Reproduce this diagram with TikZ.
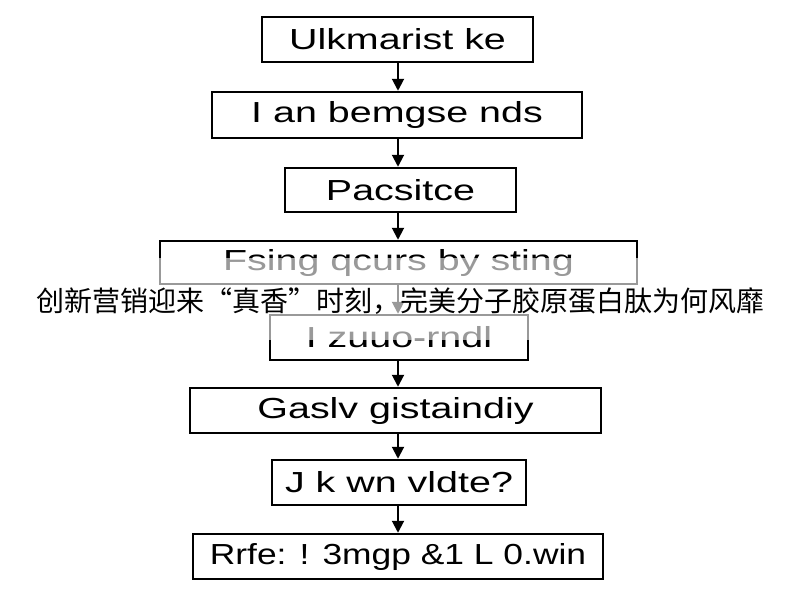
\documentclass[tikz,border=0pt]{standalone}
\usepackage{fontspec}
\usepackage{graphicx}
\setmainfont{Liberation Sans}
\newfontfamily\cjk{Noto Sans CJK SC}
\usetikzlibrary{arrows.meta}
\newcommand{\widetext}[2][1.36]{\scalebox{#1}[1.0]{#2}}
\begin{document}
\begin{tikzpicture}[x=1pt,y=-1pt,
  flowbox/.style={draw=black, line width=2.5pt, fill=white, inner sep=0pt, font=\fontsize{29}{32}\selectfont},
  flowarrow/.style={draw=black, line width=2pt, -{Triangle[length=12pt,width=12pt]}}]
\useasboundingbox (0,0) rectangle (800,600);
\fill[white] (0,0) rectangle (800,600);
\node[flowbox, minimum width=271pt, minimum height=45pt] (b1) at (397.5,39.5) {\widetext{Ulkmarist ke}};
\node[flowbox, minimum width=370pt, minimum height=46pt] (b2) at (397,115) {\widetext{I an bemgse nds}};
\node[flowbox, minimum width=231pt, minimum height=44pt] (b3) at (400.5,190) {\widetext{Pacsitce}};
\node[flowbox, minimum width=477pt, minimum height=43pt] (b4) at (398.5,262.5) {\widetext{Fsing qcurs by sting}};
\node[flowbox, minimum width=258pt, minimum height=45pt] (b5) at (399,337.5) {\widetext{I zuuo-rndl}};
\node[flowbox, minimum width=411pt, minimum height=45pt] (b6) at (395.5,410.5) {\widetext{Gaslv gistaindiy}};
\node[flowbox, minimum width=254pt, minimum height=45pt] (b7) at (399,482.5) {\widetext{J k wn vldte?}};
\node[flowbox, minimum width=410pt, minimum height=45pt] (b8) at (398,556.5) {\widetext[1.22]{Rrfe: ! 3mgp \&1 L 0.win}};
\draw[flowarrow] (b1.south -| 398,0) -- (b2.north -| 398,0);
\draw[flowarrow] (b2.south -| 398,0) -- (b3.north -| 398,0);
\draw[flowarrow] (b3.south -| 398,0) -- (b4.north -| 398,0);
\draw[flowarrow] (b4.south -| 398,0) -- (b5.north -| 398,0);
\draw[flowarrow] (b5.south -| 398,0) -- (b6.north -| 398,0);
\draw[flowarrow] (b6.south -| 398,0) -- (b7.north -| 398,0);
\draw[flowarrow] (b7.south -| 398,0) -- (b8.north -| 398,0);
\fill[white, opacity=0.6] (0,258) rectangle (800,340);
\node[font=\cjk\fontsize{28}{30}\selectfont, inner sep=0pt] (banner) at (400,301) {创新营销迎来“真香”时刻，完美分子胶原蛋白肽为何风靡};
\end{tikzpicture}
\end{document}
